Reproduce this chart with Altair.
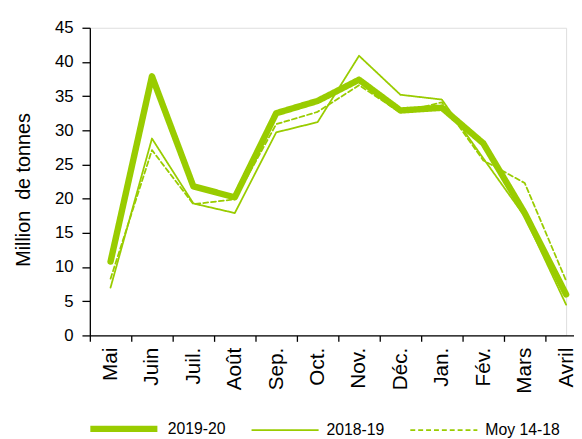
import altair as alt
import pandas as pd

months = ["Mai", "Juin", "Juil.", "Août", "Sep.", "Oct.", "Nov.", "Déc.", "Jan.", "Fév.", "Mars", "Avril"]
series_names = ["2019-20", "2018-19", "Moy 14-18"]
s2019_20 = [10.8, 37.9, 21.8, 20.2, 32.5, 34.3, 37.4, 32.9, 33.3, 28.1, 17.9, 6.0]
s2018_19 = [7.0, 28.8, 19.3, 17.9, 29.7, 31.2, 40.9, 35.2, 34.5, 25.9, 17.4, 4.5]
moy_14_18 = [8.3, 27.1, 19.2, 19.9, 30.9, 32.7, 36.6, 32.6, 34.1, 25.6, 22.3, 8.0]
y_ticks = [0, 5, 10, 15, 20, 25, 30, 35, 40, 45]

rows = []
for name, vals in zip(series_names, [s2019_20, s2018_19, moy_14_18]):
    for m, v in zip(months, vals):
        rows.append({"Mois": m, "Serie": name, "Valeur": v})
df = pd.DataFrame(rows)

green = "#99CC00"

legend = alt.Legend(
    title=None,
    orient="none",
    legendX=-3,
    legendY=369,
    direction="horizontal",
    symbolType="stroke",
    symbolSize=4624,
    labelFont="Liberation Sans",
    labelFontSize=16,
    labelColor="black",
    labelOffset=7,
    columnPadding=22,
    padding=0,
    labelLimit=300,
)

chart = alt.Chart(df).mark_line(strokeCap="round", strokeJoin="round").encode(
    x=alt.X(
        "Mois:N",
        sort=months,
        bandPosition=0.5,
        scale=alt.Scale(type="band", domain=months, range=[0, 504], paddingInner=0, paddingOuter=0),
        axis=alt.Axis(
            title=None,
            labelAngle=-90,
            labelAlign="right",
            labelBaseline="middle",
            labelFont="Liberation Sans",
            labelFontSize=21,
            labelColor="black",
            labelPadding=6,
            tickBand="extent",
            tickSize=6,
            tickColor="black",
            tickWidth=1.3,
            domainColor="black",
            domainWidth=1.3,
            grid=False,
        ),
    ),
    y=alt.Y(
        "Valeur:Q",
        scale=alt.Scale(domain=[0, 45], nice=False, zero=True),
        axis=alt.Axis(
            values=y_ticks,
            title="Million\u00a0 de tonnes",
            titleFont="Liberation Sans",
            titleFontSize=20,
            titleFontWeight="normal",
            titleColor="black",
            titleX=-61,
            titleY=164,
            titleBaseline="alphabetic",
            labelFont="Liberation Sans",
            labelFontSize=17,
            labelColor="black",
            labelPadding=9,
            tickSize=8,
            tickColor="black",
            tickWidth=1.3,
            domainColor="black",
            domainWidth=1.3,
            grid=False,
        ),
    ),
    color=alt.Color("Serie:N", scale=alt.Scale(domain=series_names, range=[green, green, green]), legend=legend),
    strokeWidth=alt.StrokeWidth("Serie:N", scale=alt.Scale(type="ordinal", domain=series_names, range=[6.5, 1.8, 1.8]), legend=legend),
    strokeDash=alt.StrokeDash("Serie:N", scale=alt.Scale(domain=series_names, range=[[1, 0], [1, 0], [5, 3]]), legend=legend),
    order=alt.Order("Serie:N"),
).properties(
    width=483,
    height=312,
    autosize=alt.AutoSizeParams(type="none"),
    padding={"left": 83, "top": 17, "right": 8, "bottom": 102},
).configure_view(strokeWidth=0).configure(background="white")

chart.save("out.html", embed_options={"renderer": "svg", "actions": False})
